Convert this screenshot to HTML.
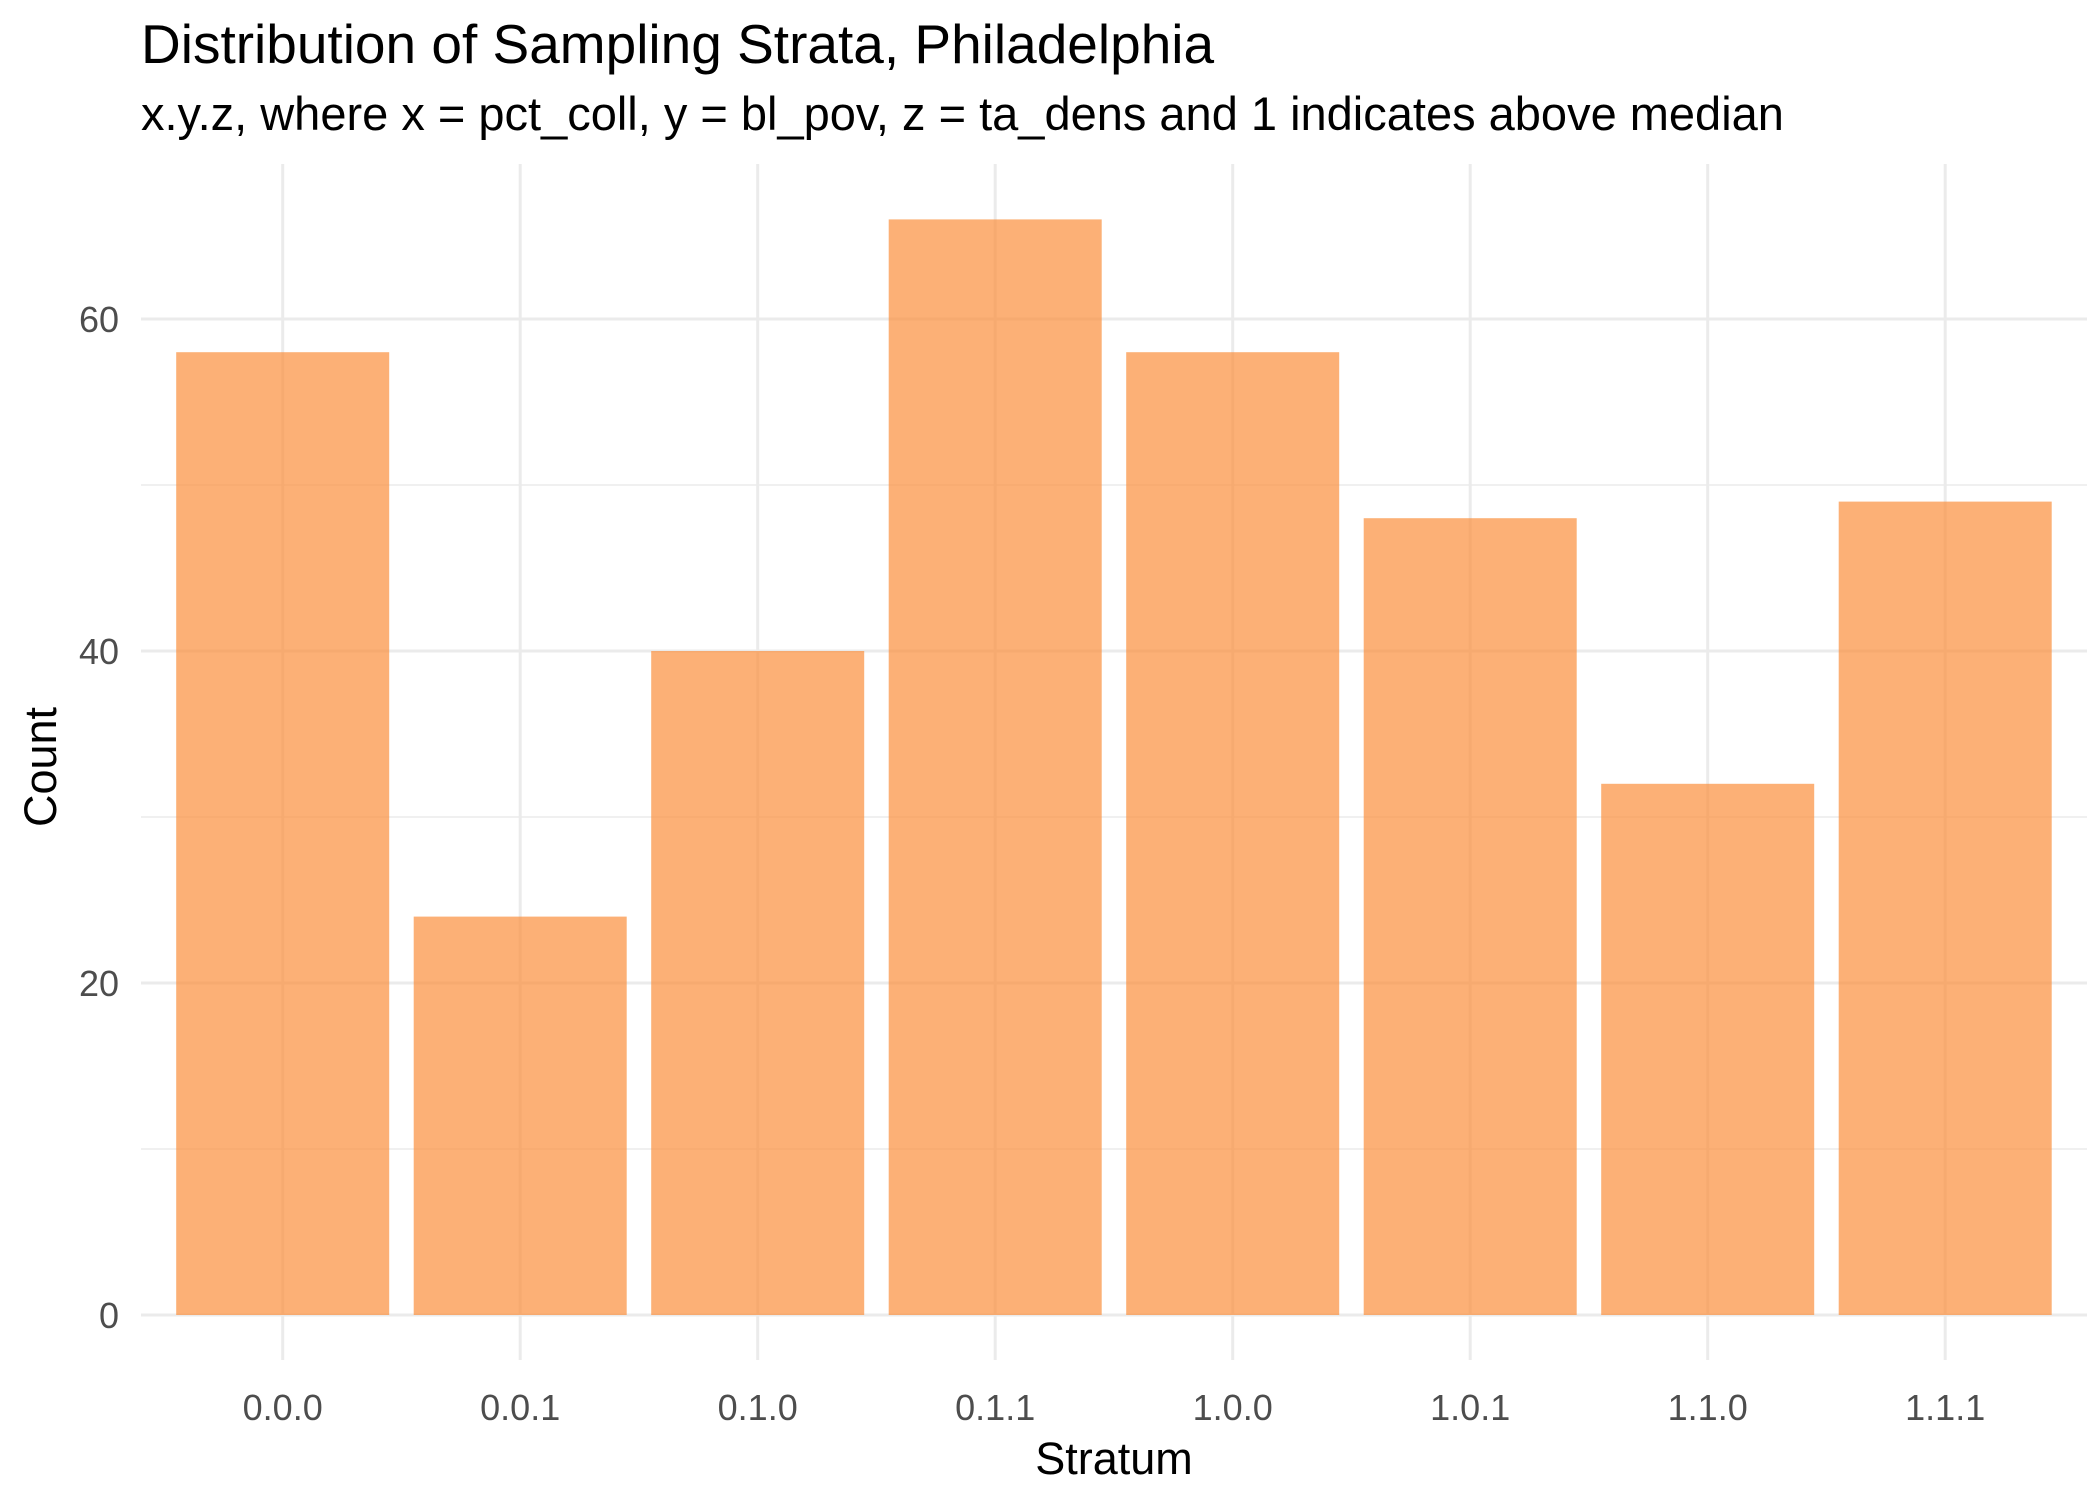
<!DOCTYPE html>
<html><head><meta charset="utf-8"><style>
body{margin:0;background:#fff}
text{font-family:"Liberation Sans",Arial,sans-serif}
</style></head><body>
<svg id="chart" width="2100" height="1500" viewBox="0 0 2100 1500" xmlns="http://www.w3.org/2000/svg">
<rect width="2100" height="1500" fill="#fff"/>
<text x="141" y="63" font-size="55" fill="#000">Distribution of Sampling Strata, Philadelphia</text>
<text x="141" y="130" font-size="47" fill="#000">x.y.z, where x = pct_coll, y = bl_pov, z = ta_dens and 1 indicates above median</text>
<g id="grid"></g>
<g id="bars"></g>
<g id="ticks"></g>
<text x="1114" y="1474" font-size="45" text-anchor="middle" fill="#000">Stratum</text>
<text transform="translate(56,767) rotate(-90)" font-size="45" text-anchor="middle" fill="#000">Count</text>
</svg>
<script>
const categories = ["0.0.0","0.0.1","0.1.0","0.1.1","1.0.0","1.0.1","1.1.0","1.1.1"];
const counts = [58,24,40,66,58,48,32,49];
const yTicks = [0,20,40,60];
const yMinor = [10,30,50];

const NS="http://www.w3.org/2000/svg";
const panelL=141, panelR=2087, panelT=164, panelB=1360;
const y0=1315, pxPerUnit=(1315-319)/60;
const x0=282.7, step=237.5, barW=213;
function yScale(v){return y0 - v*pxPerUnit;}
function xScale(i){return x0 + i*step;}
function mk(tag,attrs,parent){const e=document.createElementNS(NS,tag);for(const k in attrs)e.setAttribute(k,attrs[k]);parent.appendChild(e);return e;}
const grid=document.getElementById('grid'), bars=document.getElementById('bars'), ticks=document.getElementById('ticks');
yMinor.forEach(v=>{
  const l=mk('line',{x1:panelL,x2:panelR,y1:yScale(v),y2:yScale(v),stroke:'#ebebeb','stroke-width':1.5},grid);
  
  
});
yTicks.forEach(v=>{
  const l=mk('line',{x1:panelL,x2:panelR,y1:yScale(v),y2:yScale(v),stroke:'#ebebeb','stroke-width':3},grid);
  
  
  const t=mk('text',{x:119,y:yScale(v)+13,'font-size':36,'text-anchor':'end',fill:'#4d4d4d'},ticks);
  t.textContent=v;
  
  
});
categories.forEach((c,i)=>{
  const l=mk('line',{x1:xScale(i),x2:xScale(i),y1:panelT,y2:panelB,stroke:'#ebebeb','stroke-width':3},grid);
  
  
  const r=mk('rect',{x:xScale(i)-barW/2,y:yScale(counts[i]),width:barW,height:y0-yScale(counts[i]),fill:'#fb8f3c','fill-opacity':0.7},bars);
  
  
  const t=mk('text',{x:xScale(i),y:1420,'font-size':36,'text-anchor':'middle',fill:'#4d4d4d'},ticks);
  t.textContent=c;
  
  
});
</script>
</body></html>
